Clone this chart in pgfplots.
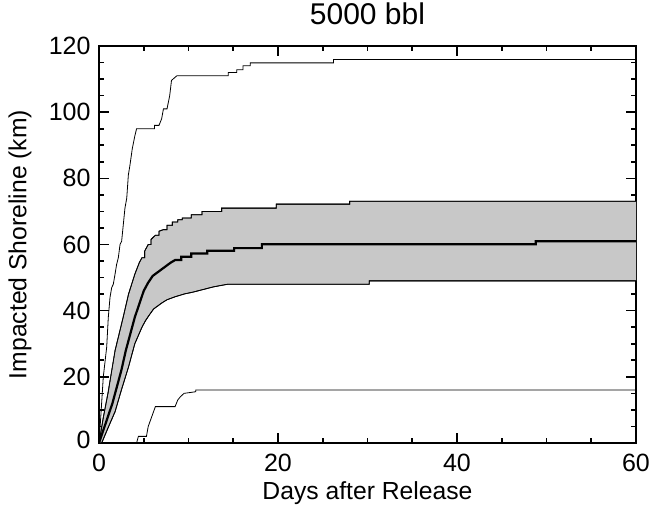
\documentclass[border=0pt]{standalone}
\usepackage{fontspec}
\setmainfont{Liberation Sans}
\usepackage{pgfplots}
\pgfplotsset{compat=1.18}
\usepgfplotslibrary{fillbetween}
\definecolor{band}{RGB}{200,200,200}

\begin{document}
\begin{tikzpicture}
\begin{axis}[
    scale only axis, width=537bp, height=397bp,
    xmin=0, xmax=60, ymin=0, ymax=120,
    xtick={0,20,40,60}, ytick={0,20,...,120},
    yticklabels={\raisebox{6bp}{0},20,40,60,80,100,\raisebox{-4bp}{120}},
    minor x tick num=3, minor y tick num=3,
    tick align=inside, major tick length=10bp, minor tick length=5bp,
    axis line style={line width=1.6bp},
    every tick/.style={black, line width=1.6bp},
    /pgf/number format/assume math mode=true,
    ticklabel style={font=\fontsize{25bp}{29bp}\selectfont},
    xticklabel style={yshift=-8bp},
    yticklabel style={xshift=-5bp},
    label style={font=\fontsize{24.7bp}{29bp}\selectfont},
    xlabel={Days after Release}, ylabel={Impacted Shoreline (km)},
    xlabel style={at={(axis description cs:0.5,-0.126)}, anchor=center},
    ylabel style={at={(axis description cs:-0.147,0.5)}, anchor=center},
    title={5000 bbl},
    title style={font=\fontsize{30bp}{34bp}\selectfont, at={(axis description cs:0.5,1.0655)}, anchor=center},
]
% 1-sigma band
\addplot[name path=upper, black, line width=0.8bp] coordinates {
    (0,0)(0.5,8)(1,15)(1.8,28)(2.7,38)(3.3,45)(4,51)(4.5,54.5)(4.8,56)
    (5.1,56)(5.1,58)(5.5,60)(5.8,60)(5.8,61.5)(6.3,62.8)(6.7,62.8)(6.7,64)
    (7.2,64.5)(7.6,64.5)(7.6,65.8)(8.2,65.8)(8.2,66.8)(8.8,66.8)(8.8,67.5)
    (9.3,67.5)(9.3,68)(10.3,68)(10.3,69)(11.5,69)(11.5,70)(13.7,70)(13.7,71)
    (19.8,71)(19.8,72.2)(28,72.2)(28,73.1)(60,73.1)
};
\addplot[name path=lower, black, line width=0.8bp] coordinates {
    (0,0)(0.3,0)(1,4.5)(1.8,9.5)(2.5,16)(3.3,23)(4,30)(4.8,35)(5.2,37)
    (5.7,39)(6.1,40.5)(6.6,41.5)(7,42.3)(7.6,43.3)(8.5,44.2)(9.6,45.1)
    (10.5,45.6)(11.5,46.3)(12.8,47.2)(14.4,48)(30.2,48)(30.2,49)(60,49)
};
\addplot[band] fill between[of=upper and lower];
\addplot[black, line width=0.8bp] coordinates {
    (0,0)(0.5,8)(1,15)(1.8,28)(2.7,38)(3.3,45)(4,51)(4.5,54.5)(4.8,56)
    (5.1,56)(5.1,58)(5.5,60)(5.8,60)(5.8,61.5)(6.3,62.8)(6.7,62.8)(6.7,64)
    (7.2,64.5)(7.6,64.5)(7.6,65.8)(8.2,65.8)(8.2,66.8)(8.8,66.8)(8.8,67.5)
    (9.3,67.5)(9.3,68)(10.3,68)(10.3,69)(11.5,69)(11.5,70)(13.7,70)(13.7,71)
    (19.8,71)(19.8,72.2)(28,72.2)(28,73.1)(60,73.1)
};
\addplot[black, line width=0.8bp] coordinates {
    (0,0)(0.3,0)(1,4.5)(1.8,9.5)(2.5,16)(3.3,23)(4,30)(4.8,35)(5.2,37)
    (5.7,39)(6.1,40.5)(6.6,41.5)(7,42.3)(7.6,43.3)(8.5,44.2)(9.6,45.1)
    (10.5,45.6)(11.5,46.3)(12.8,47.2)(14.4,48)(30.2,48)(30.2,49)(60,49)
};
% mean
\addplot[black, line width=2.2bp] coordinates {
    (0,0)(0.5,4)(1,8)(1.5,12)(2,17)(2.5,22)(3,28)(3.5,33)(4,38)(4.5,42)
    (5,46)(5.5,48.5)(6,50.5)(6.5,51.5)(7,52.5)(7.5,53.5)(8,54.5)(8.5,55.3)
    (9.2,55.3)(9.2,56.3)(10.3,56.3)(10.3,57.3)(12.1,57.3)(12.1,58.1)
    (15.1,58.1)(15.1,58.9)(18.2,58.9)(18.2,60.1)(48.8,60.1)(48.8,61)(60,61)
};
% max
\addplot[black, line width=0.8bp] coordinates {
    (0,0)(0.2,8)(0.48,20)(0.86,29)(1.04,38)(1.23,44)(1.42,47)(1.6,48)
    (1.79,51)(1.97,54)(2.16,56)(2.35,60)(2.53,61)(2.9,71)(3.1,74)(3.28,81)
    (3.46,84)(3.72,89)(4.02,93)(4.2,95)(6.2,95)(6.2,96)(6.7,96)(7.0,98)
    (7.2,101)(7.6,101)(7.9,105)(8.1,109.6)(8.7,111)(14.45,111)(14.45,112)
    (15.4,112)(15.4,112.8)(16.1,112.8)(16.1,114)(16.9,114)(16.9,114.9)
    (26.2,114.9)(26.2,115.9)(60,115.9)
};
% min
\addplot[black, line width=0.8bp] coordinates {
    (0,0)(4.2,0)(4.4,2)(5.3,2)(5.5,5)(5.9,8)(6.3,11)(8.5,11)(8.8,13)
    (9.1,14)(9.5,15)(10.8,15.5)(10.8,16)(60,16)
};
\end{axis}
\pgfresetboundingbox
\path[use as bounding box] (-99bp,-64bp) rectangle (552bp,443bp);
\end{tikzpicture}
\end{document}
